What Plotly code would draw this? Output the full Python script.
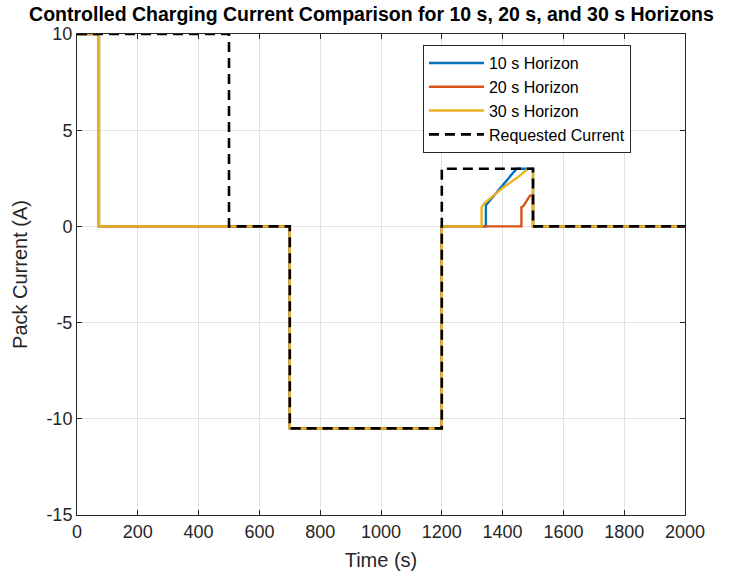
import plotly.graph_objects as go

# Data
t_10 = [0, 72, 72, 700, 700, 1200, 1200, 1345, 1345, 1446, 1496, 1500, 1500, 2000]
i_10 = [10, 10, 0, 0, -10.5, -10.5, 0, 0, 1.1, 3.0, 3.0, 3.0, 0, 0]

t_20 = [0, 72, 72, 700, 700, 1200, 1200, 1462, 1462, 1468, 1490, 1500, 1500, 2000]
i_20 = [10, 10, 0, 0, -10.5, -10.5, 0, 0, 1.0, 1.05, 1.6, 1.6, 0, 0]

t_30 = [0, 72, 72, 700, 700, 1200, 1200, 1331, 1331, 1340, 1400, 1450, 1484, 1500, 1500, 2000]
i_30 = [10, 10, 0, 0, -10.5, -10.5, 0, 0, 1.0, 1.2, 2.0, 2.55, 3.0, 3.0, 0, 0]

t_req = [0, 500, 500, 700, 700, 1200, 1200, 1500, 1500, 2000]
i_req = [10, 10, 0, 0, -10.5, -10.5, 3, 3, 0, 0]

x_ticks = list(range(0, 2001, 200))
y_ticks = [-15, -10, -5, 0, 5, 10]
y_ticktext = ["-15", "-10", "-5", "0", "5", "10"]

fig = go.Figure()
fig.add_trace(go.Scatter(x=t_10, y=i_10, mode="lines", name="10 s Horizon",
                         line=dict(color="#0072BD", width=2.4)))
fig.add_trace(go.Scatter(x=t_20, y=i_20, mode="lines", name="20 s Horizon",
                         line=dict(color="#D95319", width=2.4)))
fig.add_trace(go.Scatter(x=t_30, y=i_30, mode="lines", name="30 s Horizon",
                         line=dict(color="#EDB120", width=2.4)))
fig.add_trace(go.Scatter(x=t_req, y=i_req, mode="lines", name="Requested Current",
                         line=dict(color="black", width=2.6, dash="10px,6px")))

axis_common = dict(
    showline=True, linecolor="#262626", linewidth=1, mirror="ticks",
    ticks="inside", ticklen=5, tickcolor="#262626",
    showgrid=True, gridcolor="#e3e3e3", gridwidth=1,
    zeroline=False, tickfont=dict(size=18, color="#262626"),
    automargin=False,
)

fig.update_layout(
    width=743, height=572,
    margin=dict(l=77, r=58, t=34, b=57),
    paper_bgcolor="white", plot_bgcolor="white",
    font=dict(family="Liberation Sans, Arial, sans-serif", color="#262626"),
    title=dict(text="<b>Controlled Charging Current Comparison for 10 s, 20 s, and 30 s Horizons</b>",
               x=0.5, xanchor="center", y=0.988, yanchor="top",
               font=dict(size=19.5, color="black")),
    xaxis=dict(range=[0, 2000], tickvals=x_ticks,
               title=dict(text="Time (s)", font=dict(size=20), standoff=12),
               **axis_common),
    yaxis=dict(range=[-15, 10], tickvals=y_ticks, ticktext=y_ticktext,
               title=dict(text="Pack Current (A)", font=dict(size=20), standoff=13),
               **axis_common),
    legend=dict(x=0.569, y=0.977, xanchor="left", yanchor="top",
                bgcolor="white", bordercolor="#262626", borderwidth=1,
                font=dict(size=16, color="black"), tracegroupgap=0,
                itemwidth=55),
    showlegend=True,
)

fig.write_html("out.html")
